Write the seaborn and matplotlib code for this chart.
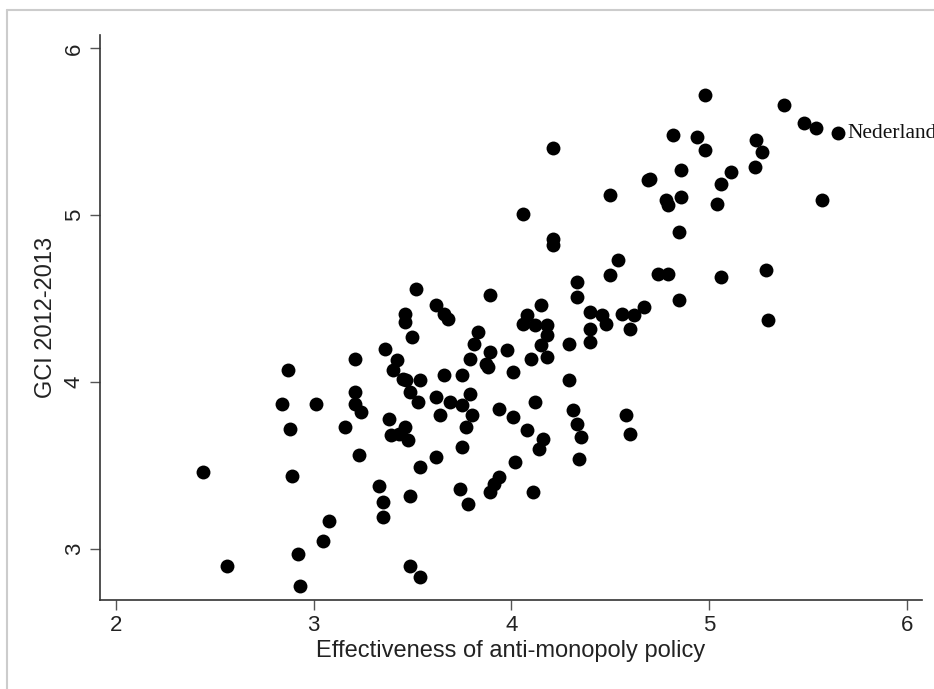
import matplotlib
matplotlib.use("Agg")
import matplotlib.pyplot as plt
from matplotlib.lines import Line2D
import seaborn as sns
import pandas as pd

# effectiveness of anti-monopoly policy (x) and GCI 2012-2013 score (y)
anti_monopoly = [
    2.44, 2.56, 2.87, 2.84, 3.01, 2.88, 2.89, 2.92, 2.93, 3.05,
    3.08, 3.16, 3.21, 3.21, 3.21, 3.24, 3.23, 3.33, 3.35, 3.35,
    3.36, 3.46, 3.46, 3.50, 3.52, 3.42, 3.40, 3.45, 3.47, 3.54,
    3.49, 3.53, 3.38, 3.46, 3.39, 3.43, 3.48, 3.54, 3.49, 3.49,
    3.54, 3.62, 3.66, 3.68, 3.66, 3.75, 3.62, 3.69, 3.75, 3.79,
    3.64, 3.80, 3.77, 3.75, 3.62, 3.74, 3.78, 3.79, 3.81, 3.83,
    3.89, 3.87, 3.88, 3.89, 3.98, 4.01, 3.94, 4.01, 4.12, 4.08,
    4.16, 4.14, 4.02, 3.94, 3.91, 3.89, 4.11, 4.15, 4.08, 4.06,
    4.12, 4.18, 4.18, 4.15, 4.10, 4.18, 4.06, 4.21, 4.21, 4.21,
    4.29, 4.29, 4.31, 4.33, 4.35, 4.34, 4.33, 4.33, 4.40, 4.46,
    4.48, 4.56, 4.62, 4.67, 4.60, 4.40, 4.40, 4.58, 4.60, 4.50,
    4.54, 4.74, 4.79, 4.85, 4.85, 4.50, 4.69, 4.70, 4.78, 4.79,
    4.86, 4.86, 4.82, 4.94, 4.98, 4.98, 5.04, 5.06, 5.11, 5.23,
    5.24, 5.27, 5.06, 5.29, 5.30, 5.38, 5.48, 5.54, 5.65, 5.57,
]
gci = [
    3.46, 2.90, 4.07, 3.87, 3.87, 3.72, 3.44, 2.97, 2.78, 3.05,
    3.17, 3.73, 4.14, 3.94, 3.87, 3.82, 3.56, 3.38, 3.28, 3.19,
    4.20, 4.41, 4.36, 4.27, 4.56, 4.13, 4.07, 4.02, 4.01, 4.01,
    3.94, 3.88, 3.78, 3.73, 3.68, 3.69, 3.65, 3.49, 3.32, 2.90,
    2.83, 4.46, 4.41, 4.38, 4.04, 4.04, 3.91, 3.88, 3.86, 3.93,
    3.80, 3.80, 3.73, 3.61, 3.55, 3.36, 3.27, 4.14, 4.23, 4.30,
    4.52, 4.11, 4.09, 4.18, 4.19, 4.06, 3.84, 3.79, 3.88, 3.71,
    3.66, 3.60, 3.52, 3.43, 3.39, 3.34, 3.34, 4.46, 4.40, 4.35,
    4.34, 4.34, 4.28, 4.22, 4.14, 4.15, 5.01, 5.40, 4.86, 4.82,
    4.23, 4.01, 3.83, 3.75, 3.67, 3.54, 4.60, 4.51, 4.42, 4.40,
    4.35, 4.41, 4.40, 4.45, 4.32, 4.32, 4.24, 3.80, 3.69, 4.64,
    4.73, 4.65, 4.65, 4.49, 4.90, 5.12, 5.21, 5.22, 5.09, 5.06,
    5.11, 5.27, 5.48, 5.47, 5.39, 5.72, 5.07, 5.19, 5.26, 5.29,
    5.45, 5.38, 4.63, 4.67, 4.37, 5.66, 5.55, 5.52, 5.49, 5.09,
]
label_country = "Nederland"
label_x, label_y = 5.65, 5.49

df = pd.DataFrame({"x": anti_monopoly, "y": gci})

sns.set_theme(style="ticks")
plt.rcParams["font.family"] = ["Liberation Sans", "DejaVu Sans"]

fig = plt.figure(figsize=(9.34, 6.89), dpi=100)
ax = fig.add_axes([100 / 934, 89 / 689, 822 / 934, 565 / 689])

sns.scatterplot(data=df, x="x", y="y", ax=ax, color="black", s=100,
                linewidth=0, legend=False)

ax.annotate(label_country, (label_x, label_y), xytext=(7, 0),
            textcoords="offset points", ha="left", va="center",
            fontsize=15.5, family="Liberation Serif", color="#111111",
            annotation_clip=False)

ax.set_xlim(1.92, 6.077)
ax.set_ylim(2.694, 6.08)
ax.set_xticks([2, 3, 4, 5, 6])
ax.set_yticks([3, 4, 5, 6])
ax.set_xlabel("Effectiveness of anti-monopoly policy", fontsize=17,
              color="#222222", labelpad=3)
ax.set_ylabel("GCI 2012-2013", fontsize=17, color="#222222", labelpad=5)
ax.tick_params(axis="both", direction="out", length=7, width=1,
               color="#555555", labelsize=16, labelcolor="#222222", pad=4)
plt.setp(ax.get_yticklabels(), rotation=90, va="center")

sns.despine(ax=ax)
for side in ("left", "bottom"):
    ax.spines[side].set_color("#333333")
    ax.spines[side].set_linewidth(1.2)

# light grey outer frame (left and top edges only visible)
fig.add_artist(Line2D([7 / 934, 7 / 934], [0, 1 - 10 / 689],
                      color="#cccccc", lw=1.5, transform=fig.transFigure))
fig.add_artist(Line2D([7 / 934, 1], [1 - 10 / 689, 1 - 10 / 689],
                      color="#cccccc", lw=1.5, transform=fig.transFigure))

fig.savefig("out.png", dpi=100)
